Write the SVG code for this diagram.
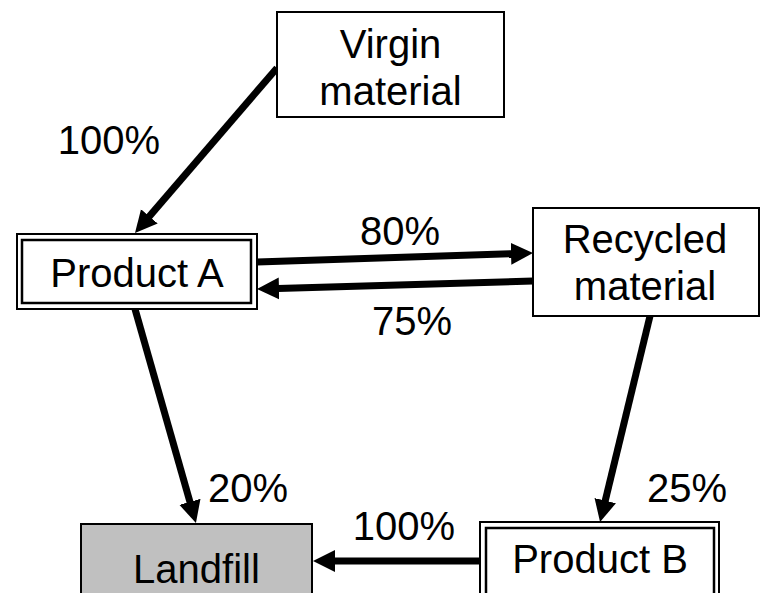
<svg xmlns="http://www.w3.org/2000/svg" width="761" height="593" viewBox="0 0 761 593">
  <style>
    .box { fill: #ffffff; stroke: #000000; stroke-width: 2; }
    .fill-grey { fill: #c0c0c0; }
    .inner { fill: none; stroke: #000000; stroke-width: 2.5; }
    .label { font-family: "Liberation Sans", Arial, sans-serif; font-size: 40px; fill: #000000; text-anchor: middle; }
    .flow { stroke: #000000; stroke-width: 7; fill: none; marker-end: url(#head); }
  </style>
  <defs>
    <marker id="head" markerUnits="userSpaceOnUse" markerWidth="24" markerHeight="24" viewBox="0 -12 24 24" refX="1" refY="0" orient="auto">
      <path d="M0,-11 L22,0 L0,11 Z" fill="#000000"/>
    </marker>
  </defs>
  <rect width="761" height="593" fill="#ffffff"/>

  <g id="connectors">
    <line class="flow" x1="277" y1="68" x2="148.7" y2="217.1"/>
    <line class="flow" x1="257" y1="262" x2="512" y2="253.7"/>
    <line class="flow" x1="533" y1="281" x2="278" y2="288.4"/>
    <line class="flow" x1="135" y1="309" x2="190.2" y2="502.8"/>
    <line class="flow" x1="650" y1="316" x2="605" y2="501.6"/>
    <line class="flow" x1="480" y1="561" x2="334" y2="561"/>
  </g>

  <g id="virgin-material">
    <rect class="box" x="277" y="12" width="227" height="105"/>
    <text class="label" x="390.5" y="58">Virgin</text>
    <text class="label" x="390.5" y="105">material</text>
  </g>

  <g id="product-a">
    <rect class="box" x="17" y="234" width="240" height="75"/>
    <rect class="inner" x="22" y="240" width="229" height="63"/>
    <text class="label" x="137" y="287">Product A</text>
  </g>

  <g id="recycled-material">
    <rect class="box" x="533" y="208" width="226" height="108"/>
    <text class="label" x="645" y="253">Recycled</text>
    <text class="label" x="645" y="300">material</text>
  </g>

  <g id="landfill">
    <rect class="box fill-grey" x="81" y="524" width="231" height="80"/>
    <text class="label" x="196.5" y="583">Landfill</text>
  </g>

  <g id="product-b">
    <rect class="box" x="480" y="522" width="239" height="82"/>
    <rect class="inner" x="486" y="528" width="228" height="76"/>
    <text class="label" x="600" y="573">Product B</text>
  </g>

  <g id="flow-labels">
    <text class="label" x="109" y="154">100%</text>
    <text class="label" x="400" y="245">80%</text>
    <text class="label" x="412" y="335">75%</text>
    <text class="label" x="248" y="502">20%</text>
    <text class="label" x="404" y="540">100%</text>
    <text class="label" x="687" y="502">25%</text>
  </g>
</svg>
